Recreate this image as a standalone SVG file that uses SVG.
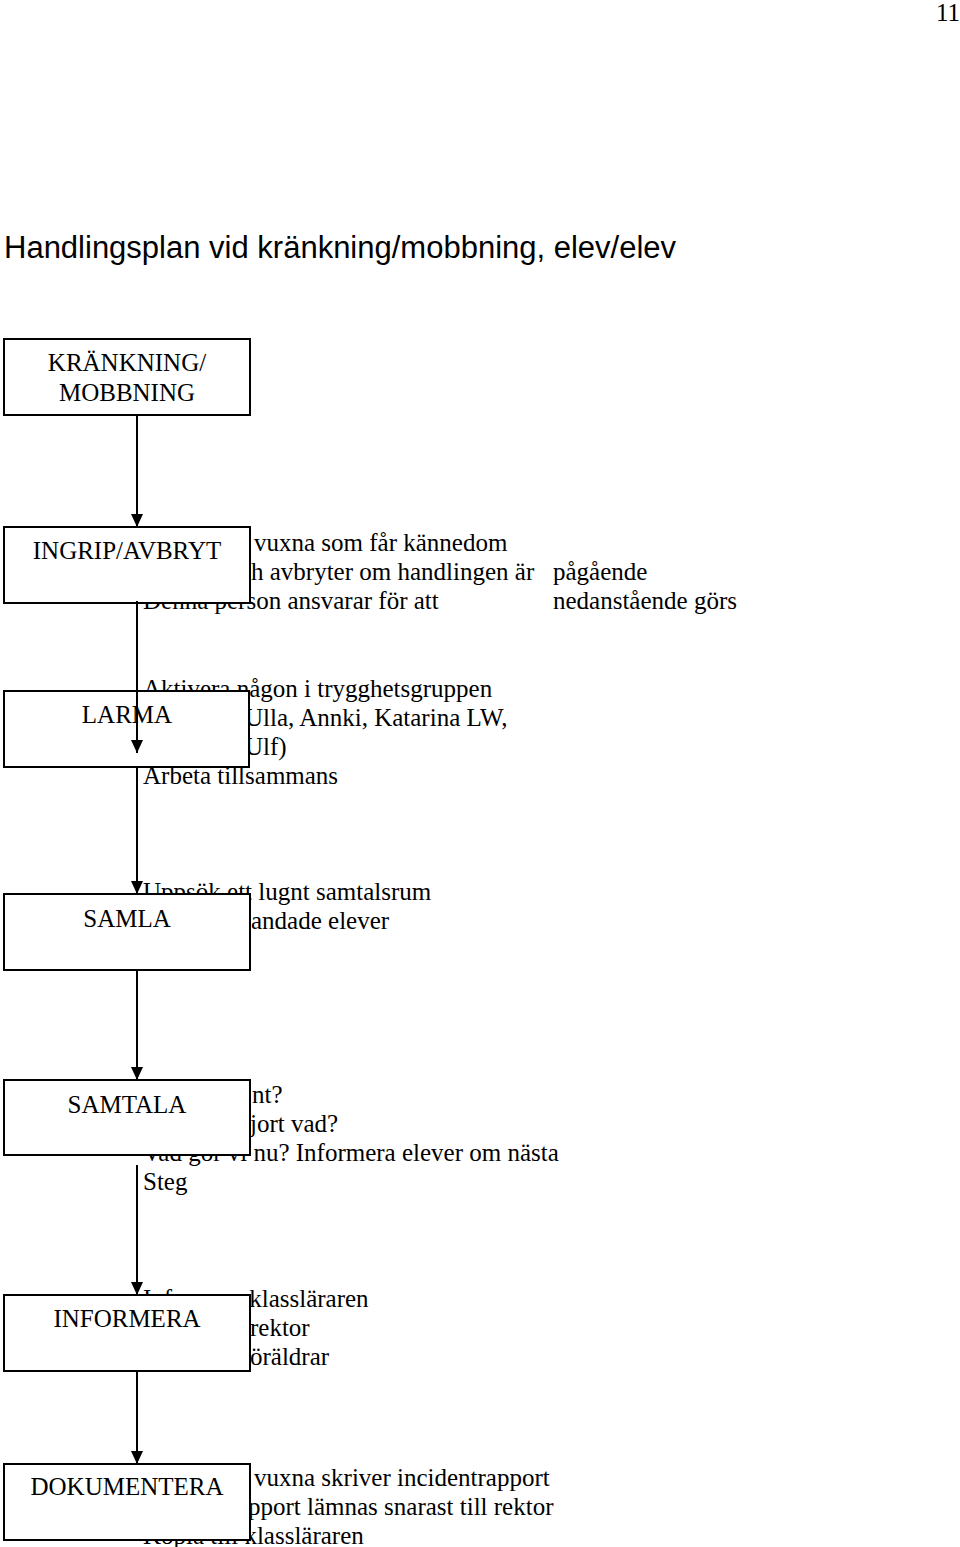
<svg xmlns="http://www.w3.org/2000/svg" width="960" height="1547" viewBox="0 0 960 1547">
<style>
  .t { font-family: "Liberation Serif", "Times New Roman", serif; font-size: 25px; fill: #000; }
  .lbl { font-family: "Liberation Serif", "Times New Roman", serif; font-size: 25px; fill: #000; text-anchor: middle; }
  .title { font-family: "Liberation Sans", Arial, sans-serif; font-size: 31px; fill: #000; }
  .box { fill: #fff; stroke: #000; stroke-width: 2; }
  .conn { stroke: #000; stroke-width: 2; fill: none; marker-end: url(#arr); }
</style>
<defs>
  <marker id="arr" viewBox="0 0 13 12" refX="13" refY="6" markerWidth="13" markerHeight="12" markerUnits="userSpaceOnUse" orient="auto">
    <path d="M0,0 L13,6 L0,12 z" fill="#000"/>
  </marker>
</defs>
<rect width="960" height="1547" fill="#fff"/>
<text class="t" x="960" y="21" text-anchor="end">11</text>
<text class="title" x="4" y="258">Handlingsplan vid kränkning/mobbning, elev/elev</text>

<g id="notes">
  <g id="note-ingrip">
    <text class="t" x="254" y="551">vuxna som får kännedom</text>
    <text class="t" x="251" y="580">h avbryter om handlingen är</text>
    <text class="t" x="143" y="609">Denna person ansvarar för att</text>
    <text class="t" x="553" y="580">pågående</text>
    <text class="t" x="553" y="609">nedanstående görs</text>
  </g>
  <g id="note-larma">
    <text class="t" x="143" y="697">Aktivera någon i trygghetsgruppen</text>
    <text class="t" x="245" y="726">Ulla, Annki, Katarina LW,</text>
    <text class="t" x="245" y="755">Ulf)</text>
    <text class="t" x="143" y="784">Arbeta tillsammans</text>
  </g>
  <g id="note-samla">
    <text class="t" x="143" y="900">Uppsök ett lugnt samtalsrum</text>
    <text class="t" x="251" y="929">andade elever</text>
  </g>
  <g id="note-samtala">
    <text class="t" x="252" y="1103">nt?</text>
    <text class="t" x="250" y="1132">jort vad?</text>
    <text class="t" x="143" y="1161">Vad gör vi nu? Informera elever om nästa</text>
    <text class="t" x="143" y="1190">Steg</text>
  </g>
  <g id="note-informera">
    <text class="t" x="143" y="1307">Informera klassläraren</text>
    <text class="t" x="250" y="1336">rektor</text>
    <text class="t" x="250" y="1365">öräldrar</text>
  </g>
  <g id="note-dokumentera">
    <text class="t" x="254" y="1486">vuxna skriver incidentrapport</text>
    <text class="t" x="248" y="1515">pport lämnas snarast till rektor</text>
    <text class="t" x="143" y="1544">Kopia till klassläraren</text>
  </g>
</g>

<g id="n-krankning">
  <rect class="box" x="4" y="339" width="246" height="76"/>
  <text class="lbl" x="127" y="371">KRÄNKNING/</text>
  <text class="lbl" x="127" y="401">MOBBNING</text>
</g>
<g id="n-ingrip">
  <rect class="box" x="4" y="527" width="246" height="76"/>
  <text class="lbl" x="127" y="559">INGRIP/AVBRYT</text>
</g>
<g id="n-larma">
  <rect class="box" x="4" y="691" width="245" height="76"/>
  <text class="lbl" x="127" y="723">LARMA</text>
</g>
<g id="n-samla">
  <rect class="box" x="4" y="894" width="246" height="76"/>
  <text class="lbl" x="127" y="927">SAMLA</text>
</g>
<g id="n-samtala">
  <rect class="box" x="4" y="1080" width="246" height="75"/>
  <text class="lbl" x="127" y="1113">SAMTALA</text>
</g>
<g id="n-informera">
  <rect class="box" x="4" y="1295" width="246" height="76"/>
  <text class="lbl" x="127" y="1327">INFORMERA</text>
</g>
<g id="n-dokumentera">
  <rect class="box" x="4" y="1464" width="246" height="76"/>
  <text class="lbl" x="127" y="1495">DOKUMENTERA</text>
</g>

<g id="connectors">
  <line class="conn" x1="137" y1="415" x2="137" y2="527"/>
  <line class="conn" x1="137" y1="601" x2="137" y2="753"/>
  <line class="conn" x1="137" y1="767" x2="137" y2="894"/>
  <line class="conn" x1="137" y1="970" x2="137" y2="1080"/>
  <line class="conn" x1="137" y1="1165" x2="137" y2="1295"/>
  <line class="conn" x1="137" y1="1371" x2="137" y2="1464"/>
</g>
</svg>
